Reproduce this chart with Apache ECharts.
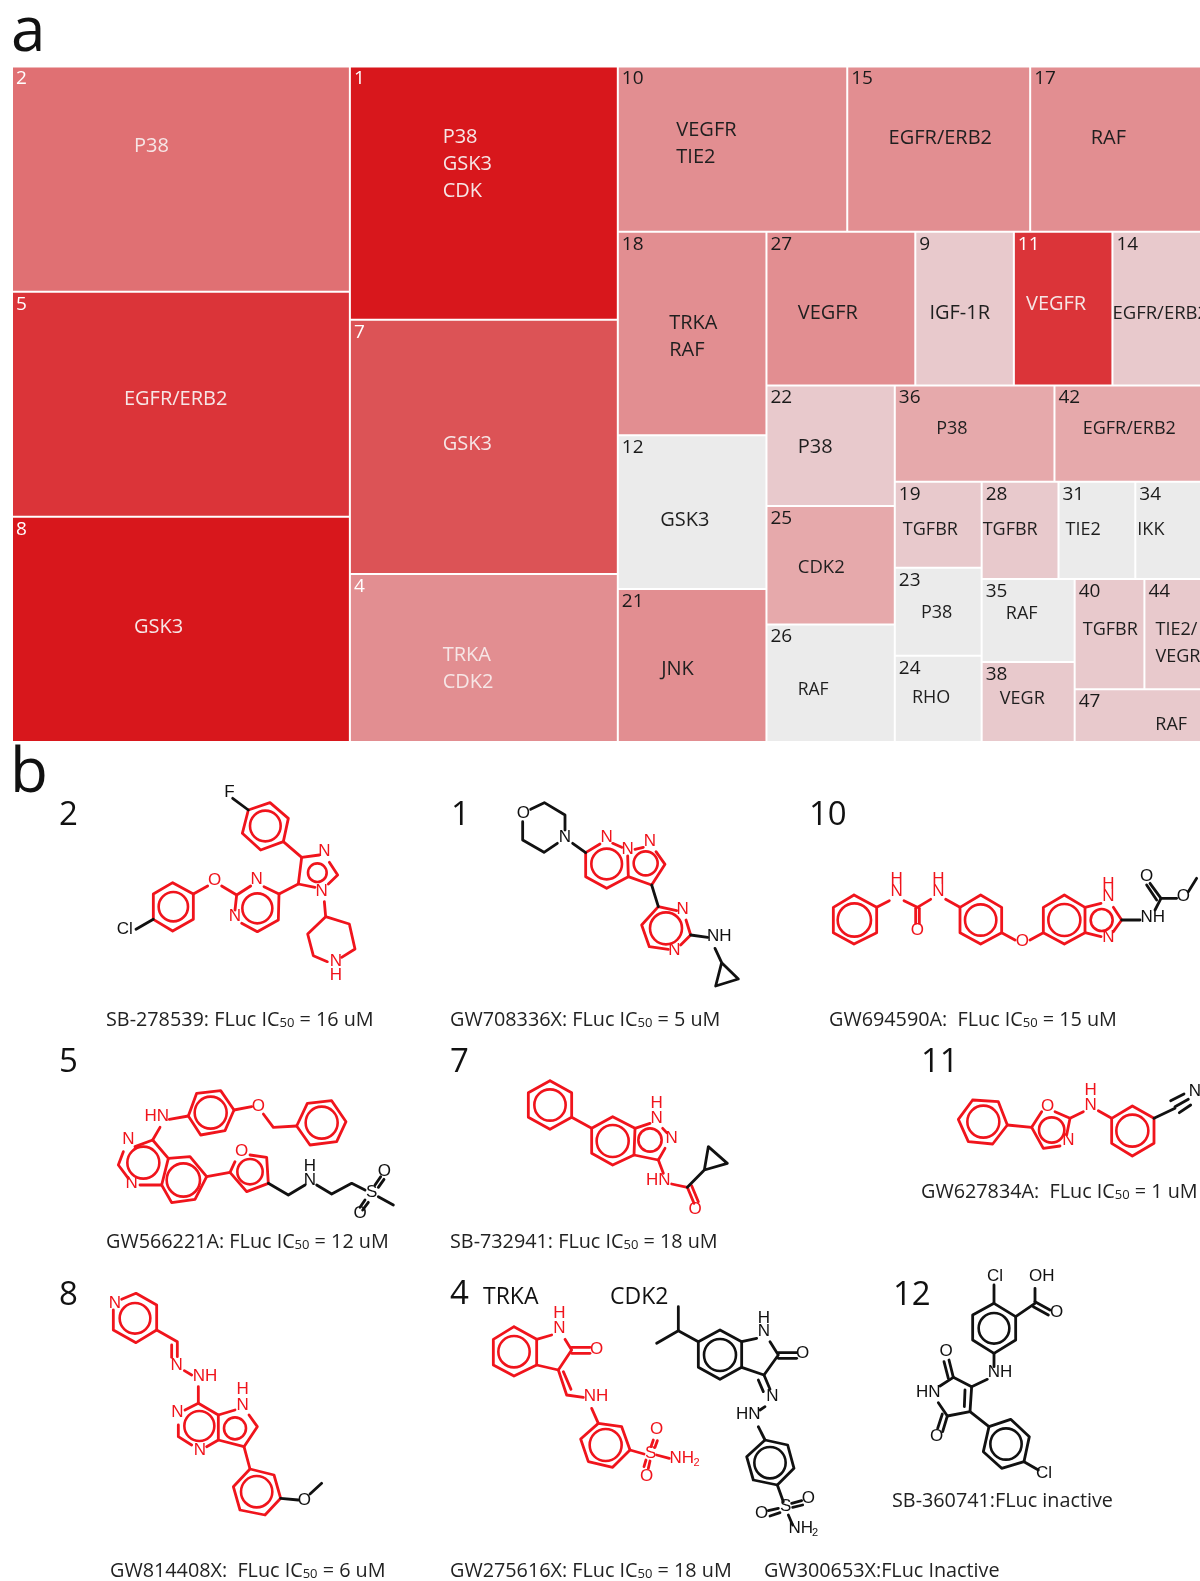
<!DOCTYPE html>
<html>
<head>
<meta charset="utf-8">
<style>html,body{margin:0;padding:0;background:#fff}#chart{width:1200px;height:1581px}</style>
<script src="https://cdn.jsdelivr.net/npm/echarts@6/dist/echarts.min.js"></script>
</head>
<body>
<div id="chart"></div>
<script>
// treemap cells, in layout order
const cellIds = ['2','5','8','1','7','4','10','15','17','18','12','21','27','9','11','14','22','25','26','36','42','19','23','24','28','31','34','35','38','40','44','47'];
const cellTargets = ['P38','EGFR/ERB2','GSK3','P38\nGSK3\nCDK','GSK3','TRKA\nCDK2','VEGFR\nTIE2','EGFR/ERB2','RAF','TRKA\nRAF','GSK3','JNK','VEGFR','IGF-1R','VEGFR','EGFR/ERB2','P38','CDK2','RAF','P38','EGFR/ERB2','TGFBR','P38','RHO','TGFBR','TIE2','IKK','RAF','VEGR','TGFBR','TIE2/\nVEGR','RAF'];
const cellValues = [74300,74300,74300,66250,66515,43990,37000,29500,27550,29550,22340,22200,22350,14800,14800,13300,15100,14860,14730,15010,13775,7300,7480,7310,7300,7300,6240,7540,7270,7520,6100,6500];
const cellShades = [2,1,0,0,3,5,5,5,5,5,8,5,5,7,1,7,7,6,8,6,6,7,8,8,7,8,8,8,7,7,7,7];
const shadeColors = ['#d8171c','#db3439','#e07073','#dc5356','#000','#e28e91','#e6a9ab','#e8c9cc','#ebebeb'];
const whiteText = ['2','5','8','1','7','4','11'];
// where each target name sits inside its cell (left edge, line centre)
const nameDx = [121,111,121,92,92,92,58,41,60,51,42,43,31,14,12,0,31,31,31,41,28,8,26,17,1,7,2,24,18,8,11,80];
const nameDy = [77,104,107,68,121,78,61,69,69,88,82,77,79,79,70,79,59,59,63,41,41,45,42,39,45,45,45,32,34,48,48,33];
const nameSizes = [20,20,20,20,20,20,20,20,20,20,20,20,20,20,20,18.5,20,18.5,17.5,18,18,18,18,18,18,18,18,18,18,18,18,18];

// structures: flat polylines and rings [cx,cy,r] in zoomed-crop units, with a crop origin
const mol2Origin = [40,780];
const mol2Red = [[625,90,690,68,745,115,730,185,662,210,607,160,625,90],[730,185,785,232,838,225],[868,247,893,285,865,312],[825,322,775,312,785,232],[775,312,717,342],[672,320,717,342,715,420,652,455,605,430],[585,390,590,345,632,318],[590,345,545,318],[503,318,460,342],[460,342,398,308,340,342,340,418,398,453,460,418,460,342],[853,365,857,410,928,432,945,507,905,532],[862,545,820,527,803,462,857,410]];
const mol2Black = [[340,418,288,448],[625,90,578,55]];
const mol2RedRings = [[676,138,46],[832,278,28],[652,385,45],[400,380,44]];
const mol2BlackRings = [];
const mol2Atoms = [['N',853,213,1],['N',845,333,1],['N',650,298,1],['N',585,410,1],['O',524,302,1],['N',888,545,1],['H',888,585,1],['Cl',254,448,0],['F',568,38,0]];

const mol1Origin = [440,780];
const mol1Red = [[437,218,480,192],[518,190,545,202],[563,228,565,290,500,325,437,290,437,218],[585,208,610,202],[648,215,675,253,635,315,565,290],[655,380,710,392],[738,420,752,465,722,495],[685,508,628,500,605,435,655,380]];
const mol1Black = [[272,88,313,68,375,105,375,150],[352,190,312,217,248,180,248,125],[398,190,437,218],[635,315,655,380],[752,465,803,472],[825,505,845,548,895,597,827,618,845,548]];
const mol1RedRings = [[500,252,46],[617,250,36],[678,445,48]];
const mol1BlackRings = [];
const mol1Atoms = [['O',250,100,0],['N',375,172,0],['NH',838,470,0],['N',500,172,1],['N',563,208,1],['N',630,185,1],['N',728,388,1],['N',703,510,1]];

const mol10Origin = [800,780];
const mol10Red = [[162,345,230,382,230,458,162,492,100,458,100,382,162,345],[230,382,268,362],[312,362,352,382,392,358],[437,358,480,382],[347,385,347,430],[358,385,358,430],[480,382,542,345,605,382,605,458,542,492,480,458,480,382],[605,458,645,480],[690,480,730,458],[730,458,730,382,793,345,855,382,855,458,793,492,730,458],[855,382,903,370],[940,382,965,420,940,455],[903,470,855,458]];
const mol10Black = [[965,420,1020,420],[1065,390,1083,355,1130,355],[1165,335,1190,295],[1083,355,1050,310],[1070,360,1040,315]];
const mol10RedRings = [[163,420,50],[542,420,47],[793,420,48],[905,420,33]];
const mol10BlackRings = [];
const mol10Atoms = [['N',925,350,1],['H',925,312,1],['N',925,472,1],['O',667,485,1],['O',352,450,1],['N',290,335,1],['H',290,297,1],['N',415,335,1],['H',415,297,1],['NH',1058,412,0],['O',1150,350,0],['O',1040,288,0]];

const mol5Origin = [50,1040];
const mol5Red = [[358,238,415,228],[415,228,440,160,512,152,552,210,525,272,452,285,415,228],[552,210,605,200],[640,222,670,262,740,258],[740,258,780,315,860,305,888,245,845,182,772,190,740,258],[330,262,308,300],[308,300,255,320],[220,335,205,375,235,415],[270,435,335,435],[335,435,355,355,308,300],[355,355,420,350,470,410,435,478,365,488,335,435],[470,410,540,397],[555,365,540,397,590,455,655,430,650,352,600,345]];
const mol5Black = [[655,430,715,465,765,435],[800,435,845,462,905,430,945,450],[985,470,1030,495],[975,435,992,410],[985,442,1002,418],[945,480,930,502],[955,487,938,510]];
const mol5RedRings = [[482,218,48],[815,248,48],[280,368,48],[400,420,50],[600,395,38]];
const mol5BlackRings = [];
const mol5Atoms = [['HN',320,228,1],['O',625,200,1],['N',235,298,1],['N',245,430,1],['O',575,335,1],['N',780,420,0],['H',780,378,0],['S',965,458,0],['O',1003,395,0],['O',930,520,0]];

const mol7Origin = [440,1040];
const mol7Red = [[330,122,395,158,395,232,330,268,265,232,265,158,330,122],[395,232,455,265],[455,265,518,230,585,265,582,345,518,375,455,340,455,265],[585,265,630,250],[668,265,680,278],[675,325,655,360,582,345],[655,360,670,400],[695,432,742,442],[742,442,762,490],[755,437,775,485]];
const mol7Black = [[742,442,793,390,862,370,805,320,793,390]];
const mol7RedRings = [[330,195,47],[518,303,48],[630,300,35]];
const mol7BlackRings = [];
const mol7Atoms = [['H',650,190,1],['N',650,235,1],['N',695,295,1],['HN',655,420,1],['O',765,507,1]];

const mol11Origin = [900,1040];
const mol11Red = [[218,180,295,185,322,255,278,312,205,305,175,238,218,180],[322,255,395,262,425,215],[465,215,510,235,500,285],[480,318,430,325,395,262],[510,235,550,215],[595,212,635,235],[635,235,697,198,762,235,762,310,697,348,635,310,635,235]];
const mol11Black = [[762,235,825,205],[812,182,852,162],[825,200,865,178],[838,218,872,195]];
const mol11RedRings = [[250,245,48],[455,270,38],[697,272,48]];
const mol11BlackRings = [];
const mol11Atoms = [['O',443,200,1],['N',505,300,1],['N',572,195,1],['H',572,150,1],['N',885,155,0]];

const mol8Origin = [50,1270];
const mol8Red = [[215,88,258,70,320,105,320,180,258,218,190,180,190,120],[320,180,382,215,382,260],[365,225,365,262],[403,302,425,315],[445,350,445,400],[445,400,405,420],[385,465,385,500,425,525],[470,530,505,510,505,435,445,400],[505,435,555,420],[597,435,622,470,582,530,505,510],[582,530,600,597],[600,597,672,615,692,685,645,735,570,720,550,650,600,597]];
const mol8Black = [[692,685,745,690],[780,672,815,640]];
const mol8RedRings = [[255,145,46],[448,468,45],[555,475,33],[620,665,47]];
const mol8BlackRings = [];
const mol8Atoms = [['N',195,100,1],['N',380,285,1],['NH',465,318,1],['N',382,428,1],['N',450,540,1],['N',578,405,1],['H',578,358,1],['O',763,690,0]];

const mol4Origin = [440,1270];
const mol4Red = [[222,170,290,208,290,285,222,318,160,285,160,208,222,170],[290,208,335,195],[375,208,395,240,355,300,290,285],[395,232,450,232],[395,250,450,250],[355,300,380,375,430,382],[370,305,393,358],[455,415,475,460],[475,460,545,470,570,540,518,592,445,575,422,507,475,460],[570,540,612,552],[650,555,688,565],[633,530,640,510],[645,532,652,512],[618,570,612,590],[630,573,625,595]];
const mol4Black = [[715,110,715,182],[650,220,715,182,775,215],[775,215,840,180,905,215,905,292,840,328,775,292,775,215],[905,215,950,205],[990,215,1015,255,972,315,905,292],[1015,248,1070,248],[1015,265,1070,265],[972,315,990,358],[955,330,970,365],[975,410,960,420],[955,470,975,510],[975,510,1043,525,1062,595,1012,645,940,630,920,560,975,510],[1012,645,1030,695],[1055,700,1085,692],[1058,712,1088,705],[985,722,1015,715],[990,738,1020,728],[1045,735,1058,765]];
const mol4RedRings = [[222,245,47],[497,525,48]];
const mol4BlackRings = [[840,255,48],[990,578,47]];
const mol4Atoms = [['N',358,175,1],['H',358,130,1],['O',470,238,1],['NH',468,378,1],['S',632,550,1],['NH',725,565,1],['2',770,578,1,11],['O',650,478,1],['O',620,618,1],['N',972,185,0],['H',972,145,0],['O',1088,250,0],['N',997,378,0],['HN',925,432,0],['S',1037,708,0],['O',1105,685,0],['O',965,730,0],['NH',1082,775,0],['2',1125,790,0,11]];

const mol12Origin = [870,1260];
const mol12Red = [];
const mol12Black = [[372,75,372,130],[372,130,437,170,437,240,372,280,308,240,308,165,372,130],[437,170,495,130,495,85],[495,125,540,150],[490,140,535,165],[372,280,372,320],[352,358,305,380],[305,380,250,352,210,378],[205,428,232,468,300,455,305,380],[285,390,283,440],[250,352,237,300],[235,355,222,305],[232,468,218,515],[217,462,203,505],[300,455,357,500],[357,500,422,478,478,530,462,605,395,625,340,575,357,500],[462,605,505,630]];
const mol12RedRings = [];
const mol12BlackRings = [[372,205,46],[408,552,47]];
const mol12Atoms = [['Cl',375,48,0],['OH',515,48,0],['O',560,158,0],['NH',390,338,0],['HN',175,398,0],['O',228,275,0],['O',200,530,0],['Cl',522,640,0]];

const molecules = [
  [mol2Origin,mol2Red,mol2Black,mol2RedRings,mol2BlackRings,mol2Atoms],
  [mol1Origin,mol1Red,mol1Black,mol1RedRings,mol1BlackRings,mol1Atoms],
  [mol10Origin,mol10Red,mol10Black,mol10RedRings,mol10BlackRings,mol10Atoms],
  [mol5Origin,mol5Red,mol5Black,mol5RedRings,mol5BlackRings,mol5Atoms],
  [mol7Origin,mol7Red,mol7Black,mol7RedRings,mol7BlackRings,mol7Atoms],
  [mol11Origin,mol11Red,mol11Black,mol11RedRings,mol11BlackRings,mol11Atoms],
  [mol8Origin,mol8Red,mol8Black,mol8RedRings,mol8BlackRings,mol8Atoms],
  [mol4Origin,mol4Red,mol4Black,mol4RedRings,mol4BlackRings,mol4Atoms],
  [mol12Origin,mol12Red,mol12Black,mol12RedRings,mol12BlackRings,mol12Atoms]
];

// captions: before the subscript, after it
const captionHeads = ['SB-278539: FLuc IC','GW708336X: FLuc IC','GW694590A:  FLuc IC','GW566221A: FLuc IC','SB-732941: FLuc IC','GW627834A:  FLuc IC','GW814408X:  FLuc IC','GW275616X: FLuc IC'];
const captionTails = [' = 16 uM',' = 5 uM',' = 15 uM',' = 12 uM',' = 18 uM',' = 1 uM',' = 6 uM',' = 18 uM'];
const captionX = [106,450,829,106,450,921,110,450];
const captionY = [1020,1020,1020,1242,1242,1192,1571,1571];
const plainCaptions = ['GW300653X:FLuc Inactive','SB-360741:FLuc inactive'];
const plainCaptionX = [764,892];
const plainCaptionY = [1571,1501];
const headings = ['a','b','2','1','10','5','7','11','8','4','12','TRKA','CDK2'];
const headingX = [11,10,59,451,809,59,450,921,59,450,893,483,610];
const headingY = [33,774,816,816,816,1063,1063,1063,1296,1295,1296,1297,1297];
const headingSize = [62,62,33,33,33,33,33,33,33,33,33,23,23];

const TEXT_FONT = '"Open Sans", sans-serif';
const ATOM_FONT = '"Liberation Sans", sans-serif';
const RED = '#f0141c';
const k = 1200 / 1190; // names were measured on the shrunk picture

const redLines = [], blackLines = [], redRings = [], blackRings = [], atoms = [];
function toPage(o, x, y) { return [o[0] + x / 3, o[1] + y / 3]; }
molecules.forEach(([o, red, black, rr, br, at]) => {
  const path = (flat) => { const p = []; for (let i = 0; i < flat.length; i += 2) p.push(toPage(o, flat[i], flat[i + 1])); return p; };
  red.forEach((l) => redLines.push(path(l)));
  black.forEach((l) => blackLines.push(path(l)));
  rr.forEach((c) => redRings.push([...toPage(o, c[0], c[1]), c[2] / 3]));
  br.forEach((c) => blackRings.push([...toPage(o, c[0], c[1]), c[2] / 3]));
  at.forEach((a) => atoms.push({ text: a[0], pos: toPage(o, a[1], a[2]), color: a[3] ? RED : '#111', size: a[4] || 17 }));
});

function lineSeries(lines, color) {
  return {
    type: 'custom', coordinateSystem: 'cartesian2d', silent: true, animation: false, clip: false,
    data: lines.map((l) => l[0]),
    renderItem(params, api) {
      return {
        type: 'polyline',
        shape: { points: lines[params.dataIndex].map((p) => api.coord(p)) },
        style: { stroke: color, lineWidth: 2.8, fill: null, lineJoin: 'round', lineCap: 'round' },
      };
    },
  };
}
function ringSeries(rings, color) {
  return {
    type: 'custom', coordinateSystem: 'cartesian2d', silent: true, animation: false, clip: false,
    data: rings.map((c) => [c[0], c[1]]),
    renderItem(params, api) {
      const c = rings[params.dataIndex];
      const p = api.coord([c[0], c[1]]);
      return {
        type: 'circle',
        shape: { cx: p[0], cy: p[1], r: api.size([c[2], c[2]])[0] },
        style: { stroke: color, lineWidth: 2.6, fill: null },
      };
    },
  };
}

// all the loose text of panel b
const labels = [];
atoms.forEach((a) => labels.push({ pos: a.pos, style: { text: a.text, fontFamily: ATOM_FONT, fontSize: a.size, fill: a.color, align: 'center', verticalAlign: 'middle' } }));
headings.forEach((h, i) => labels.push({ pos: [headingX[i], headingY[i]], style: { text: h, fontFamily: TEXT_FONT, fontSize: headingSize[i], fill: '#111', align: 'left', verticalAlign: 'middle' } }));
const capRich = { a: { fontFamily: TEXT_FONT, fontSize: 19.8, fill: '#222' }, b: { fontFamily: TEXT_FONT, fontSize: 13, fill: '#222', verticalAlign: 'bottom' } };
captionHeads.forEach((h, i) => labels.push({ pos: [captionX[i], captionY[i]], style: { text: `{a|${h}}{b|50}{a|${captionTails[i]}}`, rich: capRich, align: 'left', verticalAlign: 'middle' } }));
plainCaptions.forEach((t, i) => labels.push({ pos: [plainCaptionX[i], plainCaptionY[i]], style: { text: t, fontFamily: TEXT_FONT, fontSize: 19.8, fill: '#222', align: 'left', verticalAlign: 'middle' } }));

const treemapBase = {
  type: 'treemap', left: 13, top: 67.5, width: 1187, height: 673.5,
  roam: false, nodeClick: false, silent: true, animation: false, sort: false, squareRatio: 1.07,
  visibleMin: 0, breadcrumb: { show: false },
};

const chart = echarts.init(document.getElementById('chart'), null, { renderer: 'canvas' });
chart.setOption({
  backgroundColor: '#fff',
  grid: { left: 0, right: 0, top: 0, bottom: 0 },
  xAxis: { type: 'value', min: 0, max: 1200, show: false },
  yAxis: { type: 'value', min: 0, max: 1581, inverse: true, show: false },
  series: [
    {
      ...treemapBase,
      levels: [{ itemStyle: { gapWidth: 2, borderWidth: 0, borderColor: '#fff' } }, { itemStyle: { borderWidth: 0 } }],
      label: { show: true, position: [3, 2], padding: 0, fontFamily: TEXT_FONT, fontSize: 19, overflow: 'none' },
      data: cellIds.map((id, i) => ({
        name: id,
        value: cellValues[i],
        itemStyle: { color: shadeColors[cellShades[i]] },
        label: { color: whiteText.includes(id) ? '#fff' : '#1a1a1a' },
      })),
    },
    {
      ...treemapBase,
      levels: [{ itemStyle: { gapWidth: 2, borderWidth: 0, borderColor: 'rgba(0,0,0,0)' } }, { itemStyle: { borderWidth: 0, borderColor: 'rgba(0,0,0,0)' } }],
      label: { show: true, padding: 0, fontFamily: TEXT_FONT, overflow: 'none', lineHeight: 27 },
      data: cellTargets.map((t, i) => ({
        name: t,
        value: cellValues[i],
        itemStyle: { color: 'rgba(0,0,0,0)' },
        label: {
          position: [nameDx[i] * k - 1, nameDy[i] * k - 12],
          fontSize: nameSizes[i],
          color: whiteText.includes(cellIds[i]) ? '#f6e6e6' : '#1f1f1f',
        },
      })),
    },
    lineSeries(redLines, RED),
    lineSeries(blackLines, '#111'),
    ringSeries(redRings, RED),
    ringSeries(blackRings, '#111'),
    {
      type: 'custom', coordinateSystem: 'cartesian2d', silent: true, animation: false, clip: false,
      data: labels.map((l) => l.pos),
      renderItem(params, api) {
        const l = labels[params.dataIndex];
        const p = api.coord(l.pos);
        return { type: 'text', x: p[0], y: p[1], style: l.style };
      },
    },
  ],
});
</script>
</body>
</html>
